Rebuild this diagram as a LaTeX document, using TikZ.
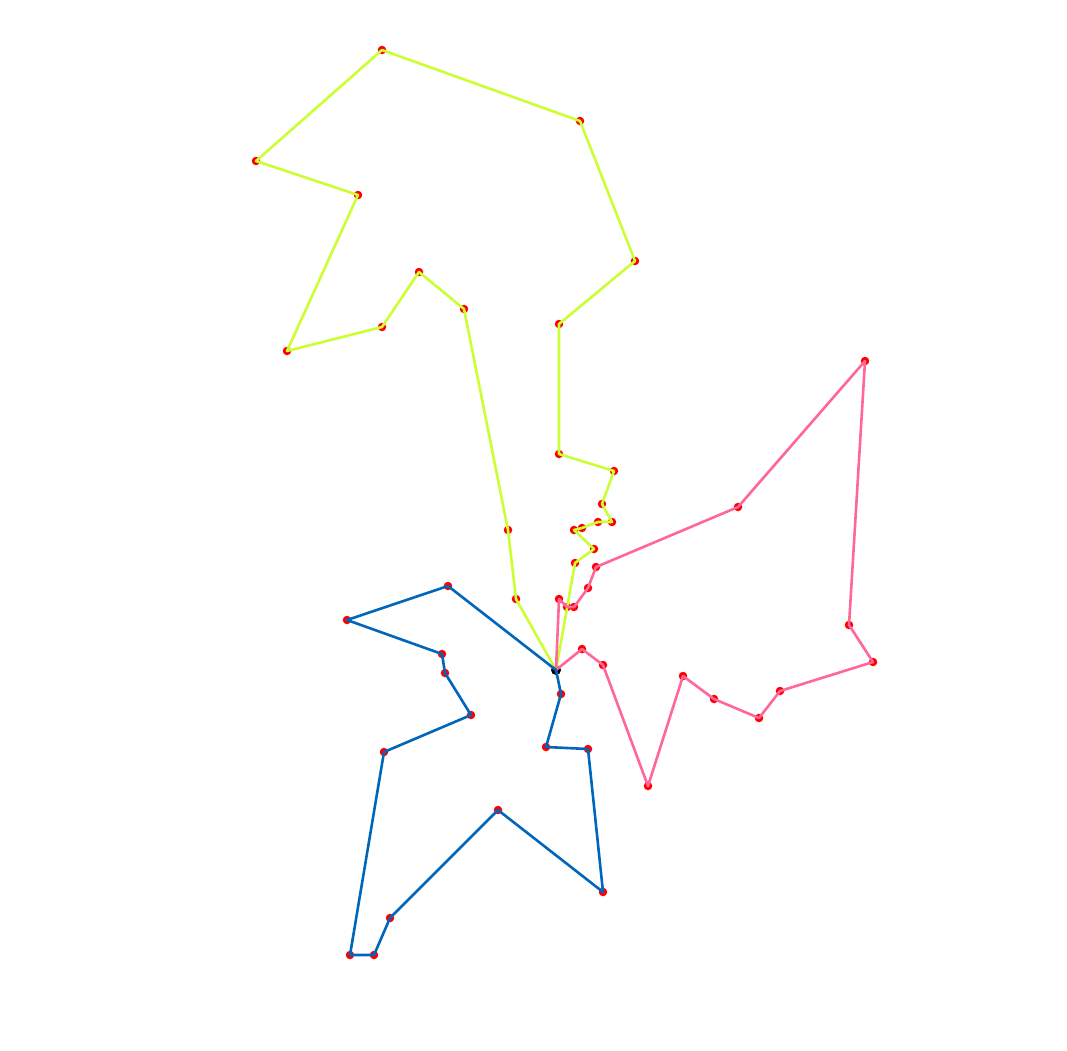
\documentclass[tikz,border=0pt]{standalone}
\definecolor{rutaA}{RGB}{204,255,51}
\definecolor{rutaB}{RGB}{255,102,153}
\definecolor{rutaC}{RGB}{0,102,187}
\begin{document}
\begin{tikzpicture}[x=1pt, y=-1pt, line cap=round, line join=round,
    cliente/.style={circle, fill=red, inner sep=0pt, minimum size=8.5pt},
    deposito/.style={circle, fill=black, inner sep=0pt, minimum size=10pt},
    ruta/.style={line width=2.6pt}]
  \useasboundingbox (0,0) rectangle (1067,1050);
  % --- deposito
  \node[deposito] (d) at (556,670) {};
  % --- clientes de cada ruta
  \foreach \p [count=\i] in {(516,599),(508,530),(464,309),(419,272),(382,327),
      (287,351),(358,195),(256,161),(382,50),(580,121),(635,261),(559,324),
      (559,454),(614,471),(602,504),(612,522),(598,522),(582,528),(574,530),
      (594,549),(575,563)}
    \node[cliente] (a\i) at \p {};
  \foreach \p [count=\i] in {(559,599),(567,607),(574,607),(588,588),(596,567),
      (738,507),(865,361),(849,625),(873,662),(780,691),(759,718),(714,699),
      (683,676),(648,786),(603,665),(582,649)}
    \node[cliente] (b\i) at \p {};
  \foreach \p [count=\i] in {(448,586),(347,620),(442,654),(445,673),(471,715),
      (384,752),(350,955),(374,955),(390,918),(498,810),(603,892),(588,749),
      (546,747),(561,694)}
    \node[cliente] (c\i) at \p {};
  % --- rutas, salen y vuelven al deposito
  \draw[ruta, rutaA] (d.center) \foreach \i in {1,...,21} {-- (a\i.center)} -- (d.center);
  \draw[ruta, rutaB] (d.center) \foreach \i in {1,...,16} {-- (b\i.center)} -- (d.center);
  \draw[ruta, rutaC] (d.center) \foreach \i in {1,...,14} {-- (c\i.center)} -- (d.center);
\end{tikzpicture}
\end{document}
